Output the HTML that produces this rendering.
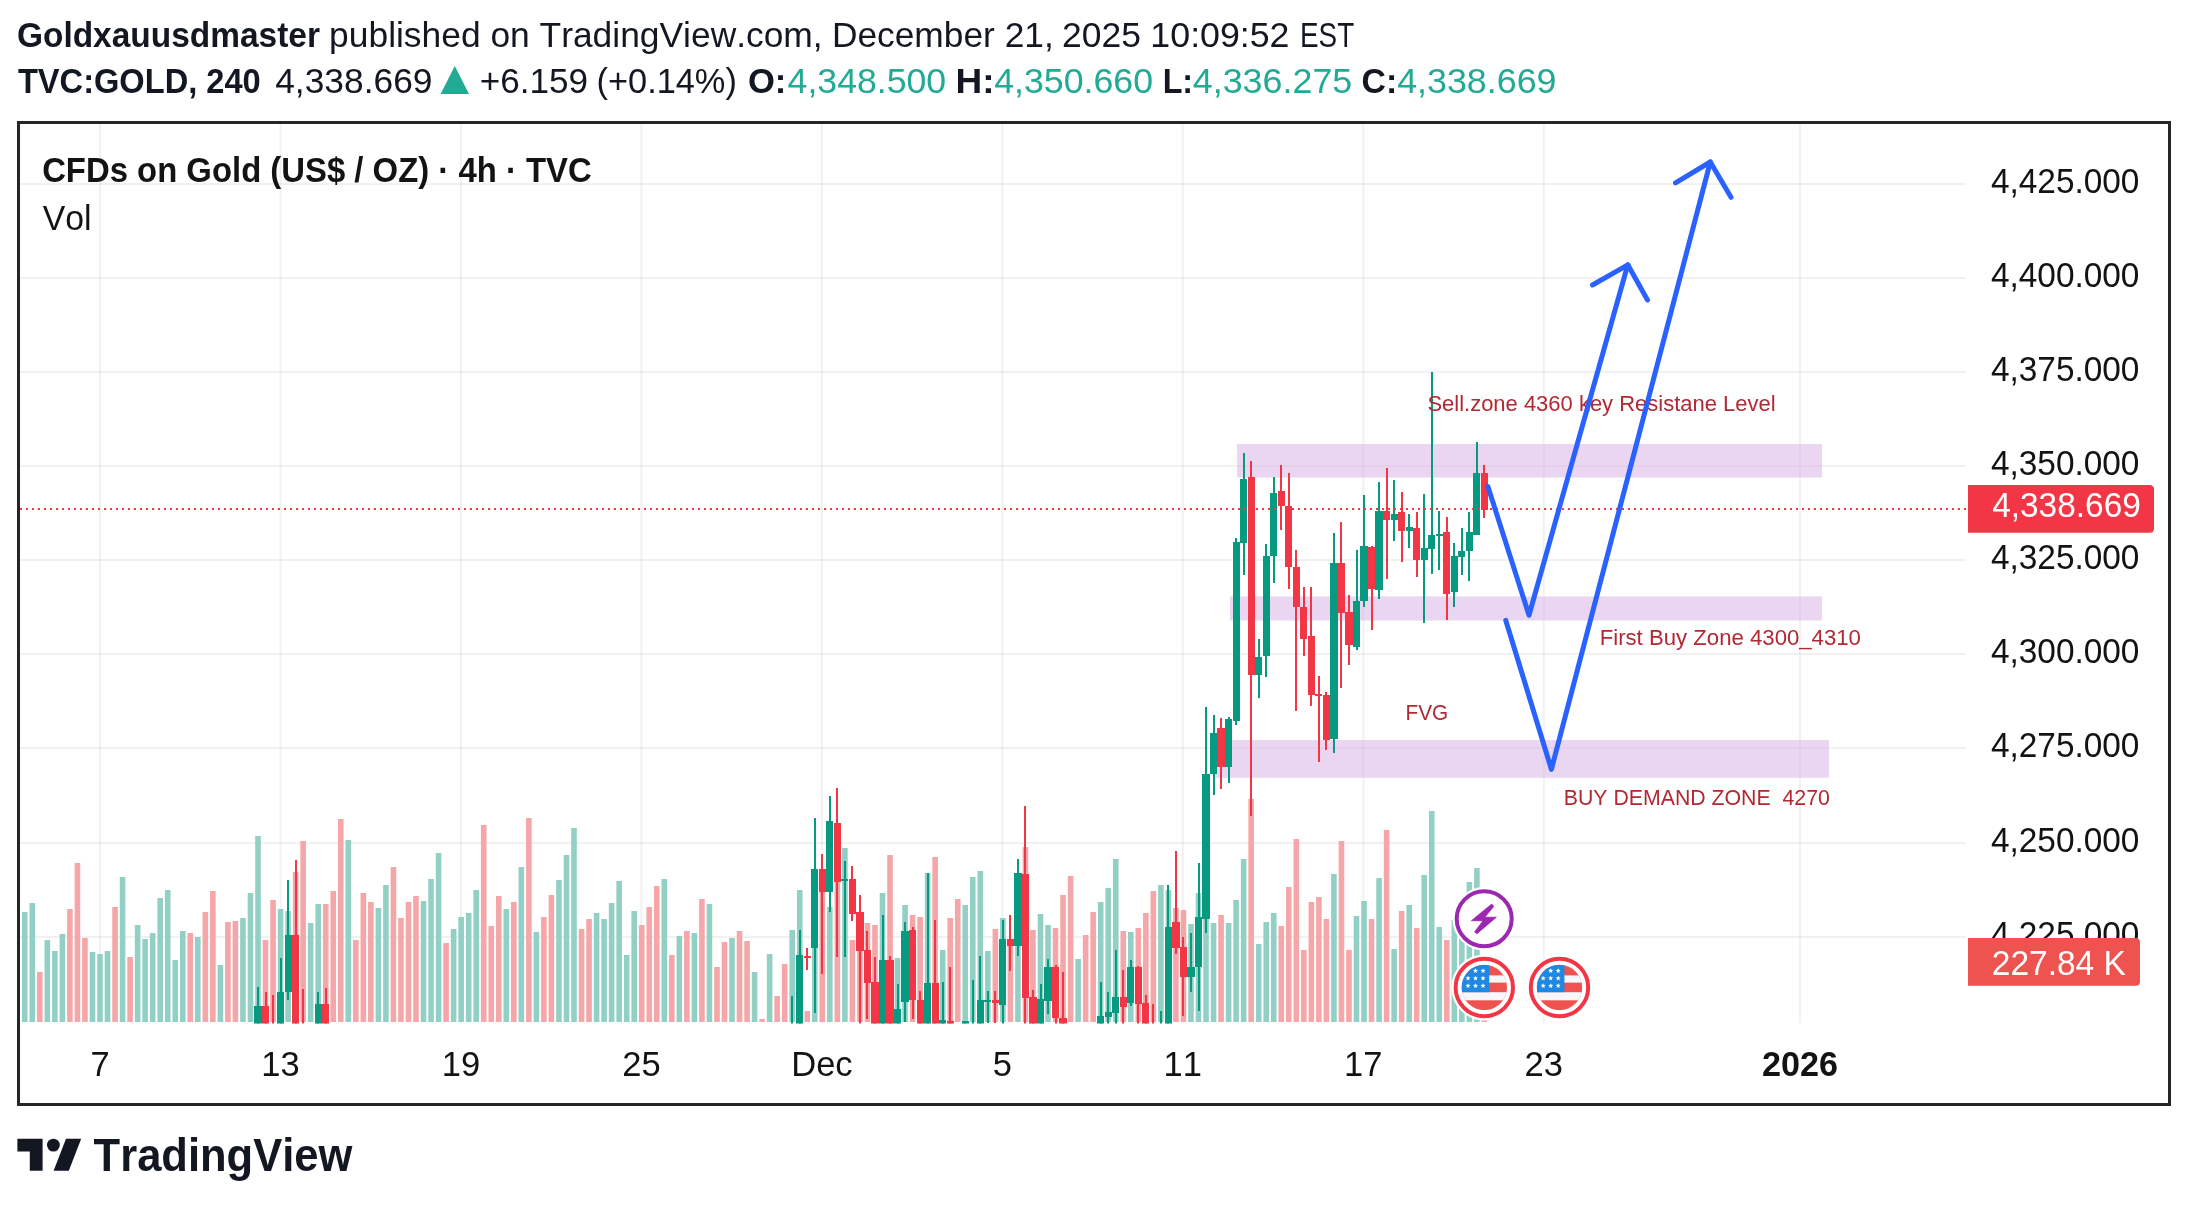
<!DOCTYPE html>
<html><head><meta charset="utf-8"><title>TradingView chart</title>
<style>html,body{margin:0;padding:0;background:#fff;width:2188px;height:1207px;overflow:hidden}svg{display:block;will-change:transform}text{font-family:"Liberation Sans",sans-serif;font-kerning:none}</style>
</head><body><svg width="2188" height="1207" viewBox="0 0 2188 1207" font-family="Liberation Sans, sans-serif"><text x="16.93" y="46.6" font-size="34.5" font-weight="bold" fill="#131722" textLength="303.08" lengthAdjust="spacingAndGlyphs" >Goldxauusdmaster</text>
<text x="329.12" y="46.6" font-size="34.5" font-weight="normal" fill="#131722" textLength="493.56" lengthAdjust="spacingAndGlyphs" >published on TradingView.com,</text>
<text x="831.9" y="46.6" font-size="34.5" font-weight="normal" fill="#131722" textLength="221.87" lengthAdjust="spacingAndGlyphs" >December 21,</text>
<text x="1062.12" y="46.6" font-size="34.5" font-weight="normal" fill="#131722" textLength="78.87" lengthAdjust="spacingAndGlyphs" >2025</text>
<text x="1150.38" y="46.6" font-size="34.5" font-weight="normal" fill="#131722" textLength="139.12" lengthAdjust="spacingAndGlyphs" >10:09:52</text>
<text x="1300.02" y="46.6" font-size="34.5" font-weight="normal" fill="#131722" textLength="54.12" lengthAdjust="spacingAndGlyphs" >EST</text>
<text x="17.93" y="93.4" font-size="34.5" font-weight="bold" fill="#131722" textLength="242.8" lengthAdjust="spacingAndGlyphs" >TVC:GOLD, 240</text>
<text x="275.19" y="93.4" font-size="34.5" font-weight="normal" fill="#131722" textLength="157.29" lengthAdjust="spacingAndGlyphs" >4,338.669</text>
<polygon points="440.6,94 469,94 454.8,66" fill="#22ab94"/>
<text x="479.69" y="93.4" font-size="34.5" font-weight="normal" fill="#131722" textLength="108.27" lengthAdjust="spacingAndGlyphs" >+6.159</text>
<text x="596.57" y="93.4" font-size="34.5" font-weight="normal" fill="#131722" textLength="140.26" lengthAdjust="spacingAndGlyphs" >(+0.14%)</text>
<text x="747.88" y="93.4" font-size="34.5" font-weight="bold" fill="#131722" textLength="38.45" lengthAdjust="spacingAndGlyphs" >O:</text>
<text x="787.58" y="93.4" font-size="34.5" font-weight="normal" fill="#22ab94" textLength="158.61" lengthAdjust="spacingAndGlyphs" >4,348.500</text>
<text x="955.53" y="93.4" font-size="34.5" font-weight="bold" fill="#131722" textLength="39.03" lengthAdjust="spacingAndGlyphs" >H:</text>
<text x="994.18" y="93.4" font-size="34.5" font-weight="normal" fill="#22ab94" textLength="158.92" lengthAdjust="spacingAndGlyphs" >4,350.660</text>
<text x="1162.64" y="93.4" font-size="34.5" font-weight="bold" fill="#131722" textLength="30.46" lengthAdjust="spacingAndGlyphs" >L:</text>
<text x="1192.78" y="93.4" font-size="34.5" font-weight="normal" fill="#22ab94" textLength="159.53" lengthAdjust="spacingAndGlyphs" >4,336.275</text>
<text x="1361.61" y="93.4" font-size="34.5" font-weight="bold" fill="#131722" textLength="35.63" lengthAdjust="spacingAndGlyphs" >C:</text>
<text x="1397.18" y="93.4" font-size="34.5" font-weight="normal" fill="#22ab94" textLength="159.32" lengthAdjust="spacingAndGlyphs" >4,338.669</text>
<g stroke="rgb(42,46,57)" stroke-opacity="0.065" stroke-width="2"><line x1="20" y1="184" x2="1966" y2="184"/><line x1="20" y1="278" x2="1966" y2="278"/><line x1="20" y1="372" x2="1966" y2="372"/><line x1="20" y1="466" x2="1966" y2="466"/><line x1="20" y1="560" x2="1966" y2="560"/><line x1="20" y1="654" x2="1966" y2="654"/><line x1="20" y1="748" x2="1966" y2="748"/><line x1="20" y1="843" x2="1966" y2="843"/><line x1="20" y1="937" x2="1966" y2="937"/><line x1="100.0" y1="124" x2="100.0" y2="1023"/><line x1="280.5" y1="124" x2="280.5" y2="1023"/><line x1="460.9" y1="124" x2="460.9" y2="1023"/><line x1="641.4" y1="124" x2="641.4" y2="1023"/><line x1="821.9" y1="124" x2="821.9" y2="1023"/><line x1="1002.4" y1="124" x2="1002.4" y2="1023"/><line x1="1182.8" y1="124" x2="1182.8" y2="1023"/><line x1="1363.3" y1="124" x2="1363.3" y2="1023"/><line x1="1543.8" y1="124" x2="1543.8" y2="1023"/><line x1="1800" y1="124" x2="1800" y2="1023"/></g>
<clipPath id="pane"><rect x="20" y="124" width="1946" height="899.5"/></clipPath>
<g clip-path="url(#pane)"><rect x="21.96" y="912.0" width="5.6" height="110.0" fill="#92d0c5"/><rect x="29.48" y="903.0" width="5.6" height="119.0" fill="#92d0c5"/><rect x="37.01" y="972.0" width="5.6" height="50.0" fill="#f5a6a8"/><rect x="44.53" y="940.0" width="5.6" height="82.0" fill="#92d0c5"/><rect x="52.06" y="951.0" width="5.6" height="71.0" fill="#92d0c5"/><rect x="59.58" y="934.0" width="5.6" height="88.0" fill="#92d0c5"/><rect x="67.10" y="909.0" width="5.6" height="113.0" fill="#f5a6a8"/><rect x="74.63" y="863.0" width="5.6" height="159.0" fill="#f5a6a8"/><rect x="82.15" y="938.0" width="5.6" height="84.0" fill="#f5a6a8"/><rect x="89.68" y="952.0" width="5.6" height="70.0" fill="#92d0c5"/><rect x="97.20" y="954.0" width="5.6" height="68.0" fill="#92d0c5"/><rect x="104.72" y="951.0" width="5.6" height="71.0" fill="#92d0c5"/><rect x="112.25" y="907.0" width="5.6" height="115.0" fill="#f5a6a8"/><rect x="119.77" y="877.0" width="5.6" height="145.0" fill="#92d0c5"/><rect x="127.30" y="957.0" width="5.6" height="65.0" fill="#f5a6a8"/><rect x="134.82" y="925.0" width="5.6" height="97.0" fill="#92d0c5"/><rect x="142.34" y="939.0" width="5.6" height="83.0" fill="#92d0c5"/><rect x="149.87" y="933.0" width="5.6" height="89.0" fill="#92d0c5"/><rect x="157.39" y="898.0" width="5.6" height="124.0" fill="#92d0c5"/><rect x="164.92" y="890.0" width="5.6" height="132.0" fill="#92d0c5"/><rect x="172.44" y="960.0" width="5.6" height="62.0" fill="#92d0c5"/><rect x="179.96" y="931.0" width="5.6" height="91.0" fill="#92d0c5"/><rect x="187.49" y="933.0" width="5.6" height="89.0" fill="#f5a6a8"/><rect x="195.01" y="937.0" width="5.6" height="85.0" fill="#92d0c5"/><rect x="202.54" y="912.0" width="5.6" height="110.0" fill="#f5a6a8"/><rect x="210.06" y="891.0" width="5.6" height="131.0" fill="#f5a6a8"/><rect x="217.58" y="965.0" width="5.6" height="57.0" fill="#92d0c5"/><rect x="225.11" y="922.0" width="5.6" height="100.0" fill="#f5a6a8"/><rect x="232.63" y="921.0" width="5.6" height="101.0" fill="#f5a6a8"/><rect x="240.16" y="918.0" width="5.6" height="104.0" fill="#92d0c5"/><rect x="247.68" y="893.0" width="5.6" height="129.0" fill="#92d0c5"/><rect x="255.20" y="836.0" width="5.6" height="186.0" fill="#92d0c5"/><rect x="262.73" y="940.0" width="5.6" height="82.0" fill="#f5a6a8"/><rect x="270.25" y="900.0" width="5.6" height="122.0" fill="#f5a6a8"/><rect x="277.78" y="909.0" width="5.6" height="113.0" fill="#92d0c5"/><rect x="285.30" y="911.0" width="5.6" height="111.0" fill="#92d0c5"/><rect x="292.82" y="872.0" width="5.6" height="150.0" fill="#f5a6a8"/><rect x="300.35" y="841.0" width="5.6" height="181.0" fill="#f5a6a8"/><rect x="307.87" y="923.0" width="5.6" height="99.0" fill="#92d0c5"/><rect x="315.40" y="904.0" width="5.6" height="118.0" fill="#92d0c5"/><rect x="322.92" y="904.0" width="5.6" height="118.0" fill="#f5a6a8"/><rect x="330.44" y="891.0" width="5.6" height="131.0" fill="#f5a6a8"/><rect x="337.97" y="819.0" width="5.6" height="203.0" fill="#f5a6a8"/><rect x="345.49" y="840.0" width="5.6" height="182.0" fill="#92d0c5"/><rect x="353.02" y="940.0" width="5.6" height="82.0" fill="#f5a6a8"/><rect x="360.54" y="893.0" width="5.6" height="129.0" fill="#f5a6a8"/><rect x="368.06" y="902.0" width="5.6" height="120.0" fill="#f5a6a8"/><rect x="375.59" y="908.0" width="5.6" height="114.0" fill="#92d0c5"/><rect x="383.11" y="885.0" width="5.6" height="137.0" fill="#92d0c5"/><rect x="390.64" y="867.0" width="5.6" height="155.0" fill="#f5a6a8"/><rect x="398.16" y="918.0" width="5.6" height="104.0" fill="#f5a6a8"/><rect x="405.68" y="902.0" width="5.6" height="120.0" fill="#f5a6a8"/><rect x="413.21" y="896.0" width="5.6" height="126.0" fill="#f5a6a8"/><rect x="420.73" y="901.0" width="5.6" height="121.0" fill="#92d0c5"/><rect x="428.26" y="879.0" width="5.6" height="143.0" fill="#92d0c5"/><rect x="435.78" y="853.0" width="5.6" height="169.0" fill="#92d0c5"/><rect x="443.30" y="943.0" width="5.6" height="79.0" fill="#f5a6a8"/><rect x="450.83" y="929.0" width="5.6" height="93.0" fill="#92d0c5"/><rect x="458.35" y="917.0" width="5.6" height="105.0" fill="#92d0c5"/><rect x="465.88" y="913.0" width="5.6" height="109.0" fill="#92d0c5"/><rect x="473.40" y="890.0" width="5.6" height="132.0" fill="#92d0c5"/><rect x="480.92" y="825.0" width="5.6" height="197.0" fill="#f5a6a8"/><rect x="488.45" y="926.0" width="5.6" height="96.0" fill="#f5a6a8"/><rect x="495.97" y="896.0" width="5.6" height="126.0" fill="#f5a6a8"/><rect x="503.50" y="909.0" width="5.6" height="113.0" fill="#92d0c5"/><rect x="511.02" y="902.0" width="5.6" height="120.0" fill="#f5a6a8"/><rect x="518.54" y="867.0" width="5.6" height="155.0" fill="#92d0c5"/><rect x="526.07" y="818.0" width="5.6" height="204.0" fill="#f5a6a8"/><rect x="533.59" y="932.0" width="5.6" height="90.0" fill="#92d0c5"/><rect x="541.12" y="917.0" width="5.6" height="105.0" fill="#f5a6a8"/><rect x="548.64" y="895.0" width="5.6" height="127.0" fill="#f5a6a8"/><rect x="556.16" y="880.0" width="5.6" height="142.0" fill="#92d0c5"/><rect x="563.69" y="855.0" width="5.6" height="167.0" fill="#92d0c5"/><rect x="571.21" y="828.0" width="5.6" height="194.0" fill="#92d0c5"/><rect x="578.74" y="929.0" width="5.6" height="93.0" fill="#f5a6a8"/><rect x="586.26" y="919.0" width="5.6" height="103.0" fill="#f5a6a8"/><rect x="593.78" y="913.0" width="5.6" height="109.0" fill="#92d0c5"/><rect x="601.31" y="919.0" width="5.6" height="103.0" fill="#92d0c5"/><rect x="608.83" y="903.0" width="5.6" height="119.0" fill="#92d0c5"/><rect x="616.36" y="881.0" width="5.6" height="141.0" fill="#92d0c5"/><rect x="623.88" y="955.0" width="5.6" height="67.0" fill="#92d0c5"/><rect x="631.40" y="911.0" width="5.6" height="111.0" fill="#92d0c5"/><rect x="638.93" y="925.0" width="5.6" height="97.0" fill="#f5a6a8"/><rect x="646.45" y="907.0" width="5.6" height="115.0" fill="#f5a6a8"/><rect x="653.98" y="886.0" width="5.6" height="136.0" fill="#f5a6a8"/><rect x="661.50" y="879.0" width="5.6" height="143.0" fill="#92d0c5"/><rect x="669.02" y="955.0" width="5.6" height="67.0" fill="#f5a6a8"/><rect x="676.55" y="936.0" width="5.6" height="86.0" fill="#92d0c5"/><rect x="684.07" y="931.0" width="5.6" height="91.0" fill="#f5a6a8"/><rect x="691.60" y="933.0" width="5.6" height="89.0" fill="#92d0c5"/><rect x="699.12" y="899.0" width="5.6" height="123.0" fill="#f5a6a8"/><rect x="706.64" y="904.0" width="5.6" height="118.0" fill="#92d0c5"/><rect x="714.17" y="967.0" width="5.6" height="55.0" fill="#f5a6a8"/><rect x="721.69" y="942.0" width="5.6" height="80.0" fill="#f5a6a8"/><rect x="729.22" y="938.0" width="5.6" height="84.0" fill="#92d0c5"/><rect x="736.74" y="931.0" width="5.6" height="91.0" fill="#f5a6a8"/><rect x="744.26" y="941.0" width="5.6" height="81.0" fill="#f5a6a8"/><rect x="751.79" y="972.0" width="5.6" height="50.0" fill="#92d0c5"/><rect x="759.31" y="1019.0" width="5.6" height="3.0" fill="#f5a6a8"/><rect x="766.84" y="954.0" width="5.6" height="68.0" fill="#92d0c5"/><rect x="774.36" y="996.0" width="5.6" height="26.0" fill="#f5a6a8"/><rect x="781.88" y="964.0" width="5.6" height="58.0" fill="#f5a6a8"/><rect x="789.41" y="930.0" width="5.6" height="92.0" fill="#92d0c5"/><rect x="796.93" y="890.0" width="5.6" height="132.0" fill="#92d0c5"/><rect x="804.46" y="1011.0" width="5.6" height="11.0" fill="#f5a6a8"/><rect x="811.98" y="940.0" width="5.6" height="82.0" fill="#92d0c5"/><rect x="819.50" y="890.0" width="5.6" height="132.0" fill="#f5a6a8"/><rect x="827.03" y="907.0" width="5.6" height="115.0" fill="#92d0c5"/><rect x="834.55" y="880.0" width="5.6" height="142.0" fill="#f5a6a8"/><rect x="842.08" y="848.0" width="5.6" height="174.0" fill="#92d0c5"/><rect x="849.60" y="940.0" width="5.6" height="82.0" fill="#f5a6a8"/><rect x="857.12" y="945.0" width="5.6" height="77.0" fill="#f5a6a8"/><rect x="864.65" y="923.0" width="5.6" height="99.0" fill="#f5a6a8"/><rect x="872.17" y="925.0" width="5.6" height="97.0" fill="#f5a6a8"/><rect x="879.70" y="893.0" width="5.6" height="129.0" fill="#92d0c5"/><rect x="887.22" y="855.0" width="5.6" height="167.0" fill="#f5a6a8"/><rect x="894.74" y="958.0" width="5.6" height="64.0" fill="#92d0c5"/><rect x="902.27" y="905.0" width="5.6" height="117.0" fill="#92d0c5"/><rect x="909.79" y="915.0" width="5.6" height="107.0" fill="#f5a6a8"/><rect x="917.32" y="917.0" width="5.6" height="105.0" fill="#f5a6a8"/><rect x="924.84" y="873.0" width="5.6" height="149.0" fill="#92d0c5"/><rect x="932.36" y="857.0" width="5.6" height="165.0" fill="#f5a6a8"/><rect x="939.89" y="950.0" width="5.6" height="72.0" fill="#92d0c5"/><rect x="947.41" y="918.0" width="5.6" height="104.0" fill="#f5a6a8"/><rect x="954.94" y="899.0" width="5.6" height="123.0" fill="#f5a6a8"/><rect x="962.46" y="905.0" width="5.6" height="117.0" fill="#92d0c5"/><rect x="969.98" y="877.0" width="5.6" height="145.0" fill="#92d0c5"/><rect x="977.51" y="871.0" width="5.6" height="151.0" fill="#92d0c5"/><rect x="985.03" y="951.0" width="5.6" height="71.0" fill="#92d0c5"/><rect x="992.56" y="929.0" width="5.6" height="93.0" fill="#f5a6a8"/><rect x="1000.08" y="918.0" width="5.6" height="104.0" fill="#92d0c5"/><rect x="1007.60" y="941.0" width="5.6" height="81.0" fill="#f5a6a8"/><rect x="1015.13" y="946.0" width="5.6" height="76.0" fill="#92d0c5"/><rect x="1022.65" y="847.0" width="5.6" height="175.0" fill="#f5a6a8"/><rect x="1030.18" y="930.0" width="5.6" height="92.0" fill="#f5a6a8"/><rect x="1037.70" y="914.0" width="5.6" height="108.0" fill="#92d0c5"/><rect x="1045.22" y="925.0" width="5.6" height="97.0" fill="#92d0c5"/><rect x="1052.75" y="928.0" width="5.6" height="94.0" fill="#f5a6a8"/><rect x="1060.27" y="895.0" width="5.6" height="127.0" fill="#f5a6a8"/><rect x="1067.80" y="876.0" width="5.6" height="146.0" fill="#f5a6a8"/><rect x="1075.32" y="959.0" width="5.6" height="63.0" fill="#92d0c5"/><rect x="1082.84" y="935.0" width="5.6" height="87.0" fill="#f5a6a8"/><rect x="1090.37" y="912.0" width="5.6" height="110.0" fill="#f5a6a8"/><rect x="1097.89" y="902.0" width="5.6" height="120.0" fill="#92d0c5"/><rect x="1105.42" y="888.0" width="5.6" height="134.0" fill="#92d0c5"/><rect x="1112.94" y="859.0" width="5.6" height="163.0" fill="#92d0c5"/><rect x="1120.46" y="931.0" width="5.6" height="91.0" fill="#f5a6a8"/><rect x="1127.99" y="932.0" width="5.6" height="90.0" fill="#92d0c5"/><rect x="1135.51" y="928.0" width="5.6" height="94.0" fill="#f5a6a8"/><rect x="1143.04" y="913.0" width="5.6" height="109.0" fill="#f5a6a8"/><rect x="1150.56" y="891.0" width="5.6" height="131.0" fill="#f5a6a8"/><rect x="1158.08" y="885.0" width="5.6" height="137.0" fill="#92d0c5"/><rect x="1165.61" y="890.0" width="5.6" height="132.0" fill="#92d0c5"/><rect x="1173.13" y="908.0" width="5.6" height="114.0" fill="#f5a6a8"/><rect x="1180.66" y="910.0" width="5.6" height="112.0" fill="#f5a6a8"/><rect x="1188.18" y="924.0" width="5.6" height="98.0" fill="#92d0c5"/><rect x="1195.70" y="893.0" width="5.6" height="129.0" fill="#92d0c5"/><rect x="1203.23" y="905.0" width="5.6" height="117.0" fill="#92d0c5"/><rect x="1210.75" y="923.0" width="5.6" height="99.0" fill="#92d0c5"/><rect x="1218.28" y="915.0" width="5.6" height="107.0" fill="#f5a6a8"/><rect x="1225.80" y="923.0" width="5.6" height="99.0" fill="#92d0c5"/><rect x="1233.32" y="900.0" width="5.6" height="122.0" fill="#92d0c5"/><rect x="1240.85" y="859.0" width="5.6" height="163.0" fill="#92d0c5"/><rect x="1248.37" y="799.0" width="5.6" height="223.0" fill="#f5a6a8"/><rect x="1255.90" y="944.0" width="5.6" height="78.0" fill="#92d0c5"/><rect x="1263.42" y="922.0" width="5.6" height="100.0" fill="#92d0c5"/><rect x="1270.94" y="913.0" width="5.6" height="109.0" fill="#92d0c5"/><rect x="1278.47" y="926.0" width="5.6" height="96.0" fill="#f5a6a8"/><rect x="1285.99" y="887.0" width="5.6" height="135.0" fill="#f5a6a8"/><rect x="1293.52" y="839.0" width="5.6" height="183.0" fill="#f5a6a8"/><rect x="1301.04" y="950.0" width="5.6" height="72.0" fill="#f5a6a8"/><rect x="1308.56" y="902.0" width="5.6" height="120.0" fill="#f5a6a8"/><rect x="1316.09" y="897.0" width="5.6" height="125.0" fill="#f5a6a8"/><rect x="1323.61" y="919.0" width="5.6" height="103.0" fill="#f5a6a8"/><rect x="1331.14" y="874.0" width="5.6" height="148.0" fill="#92d0c5"/><rect x="1338.66" y="841.0" width="5.6" height="181.0" fill="#f5a6a8"/><rect x="1346.18" y="950.0" width="5.6" height="72.0" fill="#f5a6a8"/><rect x="1353.71" y="916.0" width="5.6" height="106.0" fill="#92d0c5"/><rect x="1361.23" y="901.0" width="5.6" height="121.0" fill="#92d0c5"/><rect x="1368.76" y="919.0" width="5.6" height="103.0" fill="#f5a6a8"/><rect x="1376.28" y="878.0" width="5.6" height="144.0" fill="#92d0c5"/><rect x="1383.80" y="830.0" width="5.6" height="192.0" fill="#f5a6a8"/><rect x="1391.33" y="949.0" width="5.6" height="73.0" fill="#92d0c5"/><rect x="1398.85" y="911.0" width="5.6" height="111.0" fill="#f5a6a8"/><rect x="1406.38" y="905.0" width="5.6" height="117.0" fill="#92d0c5"/><rect x="1413.90" y="928.0" width="5.6" height="94.0" fill="#f5a6a8"/><rect x="1421.42" y="875.0" width="5.6" height="147.0" fill="#92d0c5"/><rect x="1428.95" y="811.0" width="5.6" height="211.0" fill="#92d0c5"/><rect x="1436.47" y="927.0" width="5.6" height="95.0" fill="#92d0c5"/><rect x="1444.00" y="940.0" width="5.6" height="82.0" fill="#f5a6a8"/><rect x="1451.52" y="920.0" width="5.6" height="102.0" fill="#92d0c5"/><rect x="1459.04" y="930.0" width="5.6" height="92.0" fill="#92d0c5"/><rect x="1466.57" y="882.0" width="5.6" height="140.0" fill="#92d0c5"/><rect x="1474.09" y="868.0" width="5.6" height="154.0" fill="#92d0c5"/><rect x="1481.62" y="962.0" width="5.6" height="60.0" fill="#f5a6a8"/></g>
<rect x="1237" y="444" width="585" height="33.5" fill="#d9b5e3" fill-opacity="0.55"/>
<rect x="1230" y="596.4" width="592" height="24.1" fill="#d9b5e3" fill-opacity="0.55"/>
<rect x="1215" y="740" width="614" height="37.8" fill="#d9b5e3" fill-opacity="0.55"/>
<g clip-path="url(#pane)" shape-rendering="crispEdges"><rect x="257.00" y="987.0" width="2" height="43.0" fill="#089981"/><rect x="254.40" y="1005.7" width="7.2" height="24.3" fill="#089981"/><rect x="264.53" y="992.0" width="2" height="38.0" fill="#F23645"/><rect x="261.93" y="1005.7" width="7.2" height="24.3" fill="#F23645"/><rect x="272.05" y="995.0" width="2" height="45.0" fill="#F23645"/><rect x="269.45" y="1030.0" width="7.2" height="10.0" fill="#F23645"/><rect x="279.58" y="957.7" width="2" height="72.3" fill="#089981"/><rect x="276.98" y="992.0" width="7.2" height="38.0" fill="#089981"/><rect x="287.10" y="880.0" width="2" height="119.6" fill="#089981"/><rect x="284.50" y="934.9" width="7.2" height="57.5" fill="#089981"/><rect x="294.62" y="860.0" width="2" height="170.0" fill="#F23645"/><rect x="292.02" y="934.9" width="7.2" height="95.1" fill="#F23645"/><rect x="302.15" y="989.0" width="2" height="51.0" fill="#F23645"/><rect x="299.55" y="1030.0" width="7.2" height="10.0" fill="#F23645"/><rect x="317.20" y="992.0" width="2" height="38.0" fill="#089981"/><rect x="314.60" y="1003.8" width="7.2" height="26.2" fill="#089981"/><rect x="324.72" y="988.0" width="2" height="42.0" fill="#F23645"/><rect x="322.12" y="1003.8" width="7.2" height="26.2" fill="#F23645"/><rect x="791.21" y="996.0" width="2" height="44.0" fill="#089981"/><rect x="788.61" y="1030.0" width="7.2" height="10.0" fill="#089981"/><rect x="798.73" y="930.0" width="2" height="100.0" fill="#089981"/><rect x="796.13" y="954.8" width="7.2" height="75.2" fill="#089981"/><rect x="806.26" y="948.0" width="2" height="22.0" fill="#F23645"/><rect x="803.66" y="956.0" width="7.2" height="2.0" fill="#F23645"/><rect x="813.78" y="817.8" width="2" height="195.2" fill="#089981"/><rect x="811.18" y="869.1" width="7.2" height="78.6" fill="#089981"/><rect x="821.30" y="854.0" width="2" height="119.6" fill="#F23645"/><rect x="818.70" y="869.1" width="7.2" height="22.6" fill="#F23645"/><rect x="828.83" y="795.9" width="2" height="116.1" fill="#089981"/><rect x="826.23" y="821.0" width="7.2" height="70.7" fill="#089981"/><rect x="836.35" y="788.0" width="2" height="169.4" fill="#F23645"/><rect x="833.75" y="823.0" width="7.2" height="59.0" fill="#F23645"/><rect x="843.88" y="861.0" width="2" height="96.4" fill="#089981"/><rect x="841.28" y="879.0" width="7.2" height="2.0" fill="#089981"/><rect x="851.40" y="866.0" width="2" height="54.8" fill="#F23645"/><rect x="848.80" y="879.2" width="7.2" height="34.5" fill="#F23645"/><rect x="858.92" y="895.0" width="2" height="128.8" fill="#F23645"/><rect x="856.32" y="912.2" width="7.2" height="38.8" fill="#F23645"/><rect x="866.45" y="930.5" width="2" height="88.3" fill="#F23645"/><rect x="863.85" y="950.0" width="7.2" height="32.8" fill="#F23645"/><rect x="873.97" y="957.0" width="2" height="73.0" fill="#F23645"/><rect x="871.37" y="982.2" width="7.2" height="47.8" fill="#F23645"/><rect x="881.50" y="915.0" width="2" height="115.0" fill="#089981"/><rect x="878.90" y="960.0" width="7.2" height="70.0" fill="#089981"/><rect x="889.02" y="955.7" width="2" height="74.3" fill="#F23645"/><rect x="886.42" y="960.0" width="7.2" height="70.0" fill="#F23645"/><rect x="896.54" y="984.0" width="2" height="46.0" fill="#089981"/><rect x="893.94" y="1008.7" width="7.2" height="21.3" fill="#089981"/><rect x="904.07" y="922.0" width="2" height="100.0" fill="#089981"/><rect x="901.47" y="930.5" width="7.2" height="71.1" fill="#089981"/><rect x="911.59" y="927.3" width="2" height="91.5" fill="#F23645"/><rect x="908.99" y="929.8" width="7.2" height="70.2" fill="#F23645"/><rect x="919.12" y="990.8" width="2" height="39.2" fill="#F23645"/><rect x="916.52" y="1000.0" width="7.2" height="30.0" fill="#F23645"/><rect x="926.64" y="873.4" width="2" height="156.6" fill="#089981"/><rect x="924.04" y="982.8" width="7.2" height="47.2" fill="#089981"/><rect x="934.16" y="919.7" width="2" height="110.3" fill="#F23645"/><rect x="931.56" y="982.8" width="7.2" height="47.2" fill="#F23645"/><rect x="941.69" y="981.8" width="2" height="48.2" fill="#089981"/><rect x="939.09" y="1019.9" width="7.2" height="10.1" fill="#089981"/><rect x="949.21" y="966.7" width="2" height="63.3" fill="#F23645"/><rect x="946.61" y="1021.0" width="7.2" height="9.0" fill="#F23645"/><rect x="964.26" y="1021.0" width="2" height="9.0" fill="#089981"/><rect x="961.66" y="1021.0" width="7.2" height="9.0" fill="#089981"/><rect x="971.78" y="980.0" width="2" height="60.0" fill="#089981"/><rect x="969.18" y="1030.0" width="7.2" height="10.0" fill="#089981"/><rect x="979.31" y="955.7" width="2" height="74.3" fill="#089981"/><rect x="976.71" y="1000.0" width="7.2" height="30.0" fill="#089981"/><rect x="986.83" y="990.8" width="2" height="32.2" fill="#089981"/><rect x="984.23" y="1000.0" width="7.2" height="2.0" fill="#089981"/><rect x="994.36" y="990.8" width="2" height="32.2" fill="#F23645"/><rect x="991.76" y="1000.0" width="7.2" height="2.6" fill="#F23645"/><rect x="1001.88" y="919.7" width="2" height="104.1" fill="#089981"/><rect x="999.28" y="939.1" width="7.2" height="65.7" fill="#089981"/><rect x="1009.40" y="915.0" width="2" height="55.8" fill="#F23645"/><rect x="1006.80" y="939.1" width="7.2" height="6.5" fill="#F23645"/><rect x="1016.93" y="859.0" width="2" height="96.7" fill="#089981"/><rect x="1014.33" y="873.0" width="7.2" height="72.6" fill="#089981"/><rect x="1024.45" y="806.0" width="2" height="224.0" fill="#F23645"/><rect x="1021.85" y="874.0" width="7.2" height="123.7" fill="#F23645"/><rect x="1031.98" y="989.7" width="2" height="40.3" fill="#F23645"/><rect x="1029.38" y="996.6" width="7.2" height="33.4" fill="#F23645"/><rect x="1039.50" y="984.0" width="2" height="46.0" fill="#089981"/><rect x="1036.90" y="999.0" width="7.2" height="31.0" fill="#089981"/><rect x="1047.02" y="959.0" width="2" height="54.9" fill="#089981"/><rect x="1044.42" y="966.7" width="7.2" height="34.3" fill="#089981"/><rect x="1054.55" y="965.0" width="2" height="65.0" fill="#F23645"/><rect x="1051.95" y="966.7" width="7.2" height="51.0" fill="#F23645"/><rect x="1062.07" y="971.8" width="2" height="58.2" fill="#F23645"/><rect x="1059.47" y="1017.7" width="7.2" height="12.3" fill="#F23645"/><rect x="1099.69" y="981.8" width="2" height="48.2" fill="#089981"/><rect x="1097.09" y="1015.6" width="7.2" height="14.4" fill="#089981"/><rect x="1107.22" y="991.9" width="2" height="38.1" fill="#089981"/><rect x="1104.62" y="1012.0" width="7.2" height="4.7" fill="#089981"/><rect x="1114.74" y="949.9" width="2" height="80.1" fill="#089981"/><rect x="1112.14" y="996.8" width="7.2" height="16.0" fill="#089981"/><rect x="1122.26" y="970.0" width="2" height="60.0" fill="#F23645"/><rect x="1119.66" y="996.8" width="7.2" height="9.7" fill="#F23645"/><rect x="1129.79" y="960.0" width="2" height="45.9" fill="#089981"/><rect x="1127.19" y="966.7" width="7.2" height="36.0" fill="#089981"/><rect x="1137.31" y="966.0" width="2" height="64.0" fill="#F23645"/><rect x="1134.71" y="966.7" width="7.2" height="37.7" fill="#F23645"/><rect x="1144.84" y="995.0" width="2" height="35.0" fill="#F23645"/><rect x="1142.24" y="1002.7" width="7.2" height="27.3" fill="#F23645"/><rect x="1152.36" y="1003.7" width="2" height="36.3" fill="#F23645"/><rect x="1149.76" y="1030.0" width="7.2" height="10.0" fill="#F23645"/><rect x="1159.88" y="1010.8" width="2" height="29.2" fill="#089981"/><rect x="1157.28" y="1030.0" width="7.2" height="10.0" fill="#089981"/><rect x="1167.41" y="885.0" width="2" height="145.0" fill="#089981"/><rect x="1164.81" y="926.8" width="7.2" height="103.2" fill="#089981"/><rect x="1174.93" y="851.0" width="2" height="103.0" fill="#F23645"/><rect x="1172.33" y="921.9" width="7.2" height="26.5" fill="#F23645"/><rect x="1182.46" y="937.0" width="2" height="78.6" fill="#F23645"/><rect x="1179.86" y="947.0" width="7.2" height="29.8" fill="#F23645"/><rect x="1189.98" y="933.0" width="2" height="58.9" fill="#089981"/><rect x="1187.38" y="967.0" width="7.2" height="9.8" fill="#089981"/><rect x="1197.50" y="863.0" width="2" height="148.0" fill="#089981"/><rect x="1194.90" y="917.0" width="7.2" height="50.0" fill="#089981"/><rect x="1205.03" y="707.2" width="2" height="225.4" fill="#089981"/><rect x="1202.43" y="774.3" width="7.2" height="144.3" fill="#089981"/><rect x="1212.55" y="715.2" width="2" height="80.0" fill="#089981"/><rect x="1209.95" y="733.4" width="7.2" height="40.9" fill="#089981"/><rect x="1220.08" y="717.6" width="2" height="71.1" fill="#F23645"/><rect x="1217.48" y="728.0" width="7.2" height="38.9" fill="#F23645"/><rect x="1227.60" y="717.0" width="2" height="66.3" fill="#089981"/><rect x="1225.00" y="719.0" width="7.2" height="47.9" fill="#089981"/><rect x="1235.12" y="537.9" width="2" height="187.1" fill="#089981"/><rect x="1232.52" y="541.5" width="7.2" height="179.1" fill="#089981"/><rect x="1242.65" y="452.8" width="2" height="122.2" fill="#089981"/><rect x="1240.05" y="478.8" width="7.2" height="64.2" fill="#089981"/><rect x="1250.17" y="460.9" width="2" height="355.4" fill="#F23645"/><rect x="1247.57" y="477.3" width="7.2" height="197.6" fill="#F23645"/><rect x="1257.70" y="638.5" width="2" height="59.7" fill="#089981"/><rect x="1255.10" y="657.3" width="7.2" height="17.6" fill="#089981"/><rect x="1265.22" y="543.9" width="2" height="133.4" fill="#089981"/><rect x="1262.62" y="555.8" width="7.2" height="99.7" fill="#089981"/><rect x="1272.74" y="477.3" width="2" height="105.4" fill="#089981"/><rect x="1270.14" y="493.1" width="7.2" height="62.7" fill="#089981"/><rect x="1280.27" y="465.4" width="2" height="64.2" fill="#F23645"/><rect x="1277.67" y="490.7" width="7.2" height="15.0" fill="#F23645"/><rect x="1287.79" y="472.8" width="2" height="116.5" fill="#F23645"/><rect x="1285.19" y="505.7" width="7.2" height="61.2" fill="#F23645"/><rect x="1295.32" y="550.4" width="2" height="160.3" fill="#F23645"/><rect x="1292.72" y="566.9" width="7.2" height="39.7" fill="#F23645"/><rect x="1302.84" y="586.9" width="2" height="69.5" fill="#F23645"/><rect x="1300.24" y="606.6" width="7.2" height="32.8" fill="#F23645"/><rect x="1310.36" y="586.9" width="2" height="118.8" fill="#F23645"/><rect x="1307.76" y="635.5" width="7.2" height="59.1" fill="#F23645"/><rect x="1317.89" y="675.8" width="2" height="86.6" fill="#F23645"/><rect x="1315.29" y="693.7" width="7.2" height="2.0" fill="#F23645"/><rect x="1325.41" y="692.2" width="2" height="58.2" fill="#F23645"/><rect x="1322.81" y="695.2" width="7.2" height="44.8" fill="#F23645"/><rect x="1332.94" y="533.4" width="2" height="220.0" fill="#089981"/><rect x="1330.34" y="563.0" width="7.2" height="175.5" fill="#089981"/><rect x="1340.46" y="522.0" width="2" height="166.4" fill="#F23645"/><rect x="1337.86" y="563.0" width="7.2" height="49.5" fill="#F23645"/><rect x="1347.98" y="594.6" width="2" height="70.8" fill="#F23645"/><rect x="1345.38" y="611.6" width="7.2" height="32.9" fill="#F23645"/><rect x="1355.51" y="550.4" width="2" height="100.0" fill="#089981"/><rect x="1352.91" y="601.2" width="7.2" height="45.4" fill="#089981"/><rect x="1363.03" y="495.2" width="2" height="112.0" fill="#089981"/><rect x="1360.43" y="546.0" width="7.2" height="55.2" fill="#089981"/><rect x="1370.56" y="546.0" width="2" height="84.1" fill="#F23645"/><rect x="1367.96" y="546.9" width="7.2" height="41.8" fill="#F23645"/><rect x="1378.08" y="481.9" width="2" height="116.7" fill="#089981"/><rect x="1375.48" y="511.3" width="7.2" height="78.5" fill="#089981"/><rect x="1385.60" y="468.0" width="2" height="110.7" fill="#F23645"/><rect x="1383.00" y="511.3" width="7.2" height="8.4" fill="#F23645"/><rect x="1393.13" y="480.2" width="2" height="60.4" fill="#089981"/><rect x="1390.53" y="514.4" width="7.2" height="5.3" fill="#089981"/><rect x="1400.65" y="492.3" width="2" height="70.1" fill="#F23645"/><rect x="1398.05" y="512.0" width="7.2" height="18.6" fill="#F23645"/><rect x="1408.18" y="514.4" width="2" height="33.2" fill="#089981"/><rect x="1405.58" y="526.7" width="7.2" height="3.9" fill="#089981"/><rect x="1415.70" y="512.0" width="2" height="65.0" fill="#F23645"/><rect x="1413.10" y="528.3" width="7.2" height="31.3" fill="#F23645"/><rect x="1423.22" y="493.5" width="2" height="129.3" fill="#089981"/><rect x="1420.62" y="547.6" width="7.2" height="12.4" fill="#089981"/><rect x="1430.75" y="372.1" width="2" height="201.5" fill="#089981"/><rect x="1428.15" y="535.3" width="7.2" height="13.2" fill="#089981"/><rect x="1438.27" y="511.3" width="2" height="58.8" fill="#089981"/><rect x="1435.67" y="534.0" width="7.2" height="2.4" fill="#089981"/><rect x="1445.80" y="516.7" width="2" height="103.7" fill="#F23645"/><rect x="1443.20" y="532.2" width="7.2" height="61.8" fill="#F23645"/><rect x="1453.32" y="543.4" width="2" height="63.1" fill="#089981"/><rect x="1450.72" y="556.1" width="7.2" height="35.6" fill="#089981"/><rect x="1460.84" y="528.3" width="2" height="47.1" fill="#089981"/><rect x="1458.24" y="550.8" width="7.2" height="6.0" fill="#089981"/><rect x="1468.37" y="512.0" width="2" height="69.0" fill="#089981"/><rect x="1465.77" y="532.2" width="7.2" height="18.6" fill="#089981"/><rect x="1475.89" y="441.7" width="2" height="92.9" fill="#089981"/><rect x="1473.29" y="472.6" width="7.2" height="62.0" fill="#089981"/><rect x="1483.42" y="464.5" width="2" height="53.3" fill="#F23645"/><rect x="1480.82" y="472.6" width="7.2" height="37.1" fill="#F23645"/></g>
<line x1="20" y1="509" x2="1966" y2="509" stroke="#F23645" stroke-width="2" stroke-dasharray="2 4"/>
<text x="42.15" y="181.8" font-size="35.5" font-weight="bold" fill="#131313" textLength="549.55" lengthAdjust="spacingAndGlyphs" >CFDs on Gold (US$ / OZ) · 4h · TVC</text>
<text x="42.75" y="229.6" font-size="35.5" font-weight="normal" fill="#131313" textLength="48.81" lengthAdjust="spacingAndGlyphs" >Vol</text>
<text x="1427.4" y="410.6" font-size="21.5" font-weight="normal" fill="#b22833" textLength="348.17" lengthAdjust="spacingAndGlyphs" >Sell.zone 4360 key Resistane Level</text>
<text x="1599.68" y="645.4" font-size="21.5" font-weight="normal" fill="#b22833" textLength="261.28" lengthAdjust="spacingAndGlyphs" >First Buy Zone 4300_4310</text>
<text x="1405.6" y="720" font-size="21.5" font-weight="normal" fill="#b22833" textLength="42.65" lengthAdjust="spacingAndGlyphs" >FVG</text>
<text x="1563.75" y="804.8" font-size="21.5" font-weight="normal" fill="#b22833" textLength="266.08" lengthAdjust="spacingAndGlyphs" >BUY DEMAND ZONE  4270</text>
<g fill="none" stroke="#2962FF" stroke-width="5" stroke-linecap="round" stroke-linejoin="round"><polyline points="1487.9,486.5 1529,615.3 1627.8,264.8"/><polyline points="1592.5,285 1627.8,264.8 1647.5,300"/><polyline points="1505.8,620.4 1551.4,769.4 1710.3,162"/><polyline points="1675.5,182.9 1710.3,162 1731,197.3"/></g>
<text x="1990.93" y="192.6" font-size="34.5" font-weight="normal" fill="#131313" textLength="148.47" lengthAdjust="spacingAndGlyphs" >4,425.000</text>
<text x="1990.93" y="286.6" font-size="34.5" font-weight="normal" fill="#131313" textLength="148.47" lengthAdjust="spacingAndGlyphs" >4,400.000</text>
<text x="1990.93" y="380.6" font-size="34.5" font-weight="normal" fill="#131313" textLength="148.47" lengthAdjust="spacingAndGlyphs" >4,375.000</text>
<text x="1990.93" y="474.6" font-size="34.5" font-weight="normal" fill="#131313" textLength="148.47" lengthAdjust="spacingAndGlyphs" >4,350.000</text>
<text x="1990.93" y="568.6" font-size="34.5" font-weight="normal" fill="#131313" textLength="148.47" lengthAdjust="spacingAndGlyphs" >4,325.000</text>
<text x="1990.93" y="662.6" font-size="34.5" font-weight="normal" fill="#131313" textLength="148.47" lengthAdjust="spacingAndGlyphs" >4,300.000</text>
<text x="1990.93" y="756.6" font-size="34.5" font-weight="normal" fill="#131313" textLength="148.47" lengthAdjust="spacingAndGlyphs" >4,275.000</text>
<text x="1990.93" y="851.6" font-size="34.5" font-weight="normal" fill="#131313" textLength="148.47" lengthAdjust="spacingAndGlyphs" >4,250.000</text>
<text x="1990.93" y="945.6" font-size="34.5" font-weight="normal" fill="#131313" textLength="148.47" lengthAdjust="spacingAndGlyphs" >4,225.000</text>
<path d="M1968,485 H2149.5 Q2154,485 2154,489.5 V528.2 Q2154,532.7 2149.5,532.7 H1968 Z" fill="#F23645"/>
<text x="1992.13" y="516.5" font-size="34.5" font-weight="normal" fill="#ffffff" textLength="148.75" lengthAdjust="spacingAndGlyphs" >4,338.669</text>
<path d="M1968,938 H2135.5 Q2140,938 2140,942.5 V981.2 Q2140,985.7 2135.5,985.7 H1968 Z" fill="#ef5350"/>
<text x="1991.82" y="975.2" font-size="35" font-weight="normal" fill="#ffffff" textLength="134.06" lengthAdjust="spacingAndGlyphs" >227.84 K</text>
<text x="100" y="1075.7" font-size="34.5" font-weight="normal" fill="#131313" text-anchor="middle" >7</text>
<text x="280.5" y="1075.7" font-size="34.5" font-weight="normal" fill="#131313" text-anchor="middle" >13</text>
<text x="461" y="1075.7" font-size="34.5" font-weight="normal" fill="#131313" text-anchor="middle" >19</text>
<text x="641.4" y="1075.7" font-size="34.5" font-weight="normal" fill="#131313" text-anchor="middle" >25</text>
<text x="821.9" y="1075.7" font-size="34.5" font-weight="normal" fill="#131313" text-anchor="middle" >Dec</text>
<text x="1002.4" y="1075.7" font-size="34.5" font-weight="normal" fill="#131313" text-anchor="middle" >5</text>
<text x="1182.8" y="1075.7" font-size="34.5" font-weight="normal" fill="#131313" text-anchor="middle" >11</text>
<text x="1363.3" y="1075.7" font-size="34.5" font-weight="normal" fill="#131313" text-anchor="middle" >17</text>
<text x="1543.8" y="1075.7" font-size="34.5" font-weight="normal" fill="#131313" text-anchor="middle" >23</text>
<text x="1762" y="1075.7" font-size="34.5" font-weight="bold" fill="#131313" textLength="76" lengthAdjust="spacingAndGlyphs" >2026</text>
<rect x="18.5" y="122.5" width="2151" height="982" fill="none" stroke="#262626" stroke-width="3"/>
<circle cx="1484.2" cy="918.8" r="31.8" fill="#fff"/>
<circle cx="1484.2" cy="918.8" r="27.5" fill="#fff" stroke="#9c27b0" stroke-width="4"/>
<path d="M1491.7,904.1 L1493.8,906.4 L1484.8,917.2 L1496.4,917.2 L1476.9,933.7 L1474.6,931.9 L1483.0,920.7 L1471.4,920.7 Z" fill="#9c27b0" stroke="#9c27b0" stroke-width="0.8" stroke-linejoin="round"/>
<circle cx="1484.3" cy="987.5" r="33" fill="#fff"/>
<circle cx="1484.3" cy="987.5" r="28.7" fill="#fff" stroke="#F23645" stroke-width="4"/>
<clipPath id="c1484"><circle cx="1484.3" cy="987.5" r="22.7"/></clipPath>
<g clip-path="url(#c1484)"><rect x="1461.3" y="964.5" width="46" height="46" fill="#ef5350"/><rect x="1461.3" y="975.4" width="46" height="7.2" fill="#f5f7fb"/><rect x="1461.3" y="992.2" width="46" height="8.1" fill="#f5f7fb"/><rect x="1461.3" y="964.5" width="27.9" height="27.7" fill="#1e88e5"/><polygon points="1475.50,968.20 1476.19,969.85 1477.97,970.00 1476.61,971.16 1477.03,972.90 1475.50,971.97 1473.97,972.90 1474.39,971.16 1473.03,970.00 1474.81,969.85" fill="#fff"/><polygon points="1483.00,968.20 1483.69,969.85 1485.47,970.00 1484.11,971.16 1484.53,972.90 1483.00,971.97 1481.47,972.90 1481.89,971.16 1480.53,970.00 1482.31,969.85" fill="#fff"/><polygon points="1468.00,975.70 1468.69,977.35 1470.47,977.50 1469.11,978.66 1469.53,980.40 1468.00,979.47 1466.47,980.40 1466.89,978.66 1465.53,977.50 1467.31,977.35" fill="#fff"/><polygon points="1475.50,975.70 1476.19,977.35 1477.97,977.50 1476.61,978.66 1477.03,980.40 1475.50,979.47 1473.97,980.40 1474.39,978.66 1473.03,977.50 1474.81,977.35" fill="#fff"/><polygon points="1483.00,975.70 1483.69,977.35 1485.47,977.50 1484.11,978.66 1484.53,980.40 1483.00,979.47 1481.47,980.40 1481.89,978.66 1480.53,977.50 1482.31,977.35" fill="#fff"/><polygon points="1468.00,983.20 1468.69,984.85 1470.47,985.00 1469.11,986.16 1469.53,987.90 1468.00,986.97 1466.47,987.90 1466.89,986.16 1465.53,985.00 1467.31,984.85" fill="#fff"/><polygon points="1475.50,983.20 1476.19,984.85 1477.97,985.00 1476.61,986.16 1477.03,987.90 1475.50,986.97 1473.97,987.90 1474.39,986.16 1473.03,985.00 1474.81,984.85" fill="#fff"/><polygon points="1483.00,983.20 1483.69,984.85 1485.47,985.00 1484.11,986.16 1484.53,987.90 1483.00,986.97 1481.47,987.90 1481.89,986.16 1480.53,985.00 1482.31,984.85" fill="#fff"/></g>
<circle cx="1559.5" cy="987.5" r="33" fill="#fff"/>
<circle cx="1559.5" cy="987.5" r="28.7" fill="#fff" stroke="#F23645" stroke-width="4"/>
<clipPath id="c1559"><circle cx="1559.5" cy="987.5" r="22.7"/></clipPath>
<g clip-path="url(#c1559)"><rect x="1536.5" y="964.5" width="46" height="46" fill="#ef5350"/><rect x="1536.5" y="975.4" width="46" height="7.2" fill="#f5f7fb"/><rect x="1536.5" y="992.2" width="46" height="8.1" fill="#f5f7fb"/><rect x="1536.5" y="964.5" width="27.9" height="27.7" fill="#1e88e5"/><polygon points="1550.70,968.20 1551.39,969.85 1553.17,970.00 1551.81,971.16 1552.23,972.90 1550.70,971.97 1549.17,972.90 1549.59,971.16 1548.23,970.00 1550.01,969.85" fill="#fff"/><polygon points="1558.20,968.20 1558.89,969.85 1560.67,970.00 1559.31,971.16 1559.73,972.90 1558.20,971.97 1556.67,972.90 1557.09,971.16 1555.73,970.00 1557.51,969.85" fill="#fff"/><polygon points="1543.20,975.70 1543.89,977.35 1545.67,977.50 1544.31,978.66 1544.73,980.40 1543.20,979.47 1541.67,980.40 1542.09,978.66 1540.73,977.50 1542.51,977.35" fill="#fff"/><polygon points="1550.70,975.70 1551.39,977.35 1553.17,977.50 1551.81,978.66 1552.23,980.40 1550.70,979.47 1549.17,980.40 1549.59,978.66 1548.23,977.50 1550.01,977.35" fill="#fff"/><polygon points="1558.20,975.70 1558.89,977.35 1560.67,977.50 1559.31,978.66 1559.73,980.40 1558.20,979.47 1556.67,980.40 1557.09,978.66 1555.73,977.50 1557.51,977.35" fill="#fff"/><polygon points="1543.20,983.20 1543.89,984.85 1545.67,985.00 1544.31,986.16 1544.73,987.90 1543.20,986.97 1541.67,987.90 1542.09,986.16 1540.73,985.00 1542.51,984.85" fill="#fff"/><polygon points="1550.70,983.20 1551.39,984.85 1553.17,985.00 1551.81,986.16 1552.23,987.90 1550.70,986.97 1549.17,987.90 1549.59,986.16 1548.23,985.00 1550.01,984.85" fill="#fff"/><polygon points="1558.20,983.20 1558.89,984.85 1560.67,985.00 1559.31,986.16 1559.73,987.90 1558.20,986.97 1556.67,987.90 1557.09,986.16 1555.73,985.00 1557.51,984.85" fill="#fff"/></g>
<g fill="#131722"><path d="M17.4,1138.7 H42.6 V1170.7 H29.8 V1151.6 H17.4 Z"/><circle cx="53.4" cy="1145.1" r="6.4"/><path d="M66,1138.7 H81.2 L68.8,1170.7 H53.6 Z"/></g>
<text x="93.61" y="1170.7" font-size="46" font-weight="bold" fill="#131722" textLength="258.8" lengthAdjust="spacingAndGlyphs" >TradingView</text></svg></body></html>
